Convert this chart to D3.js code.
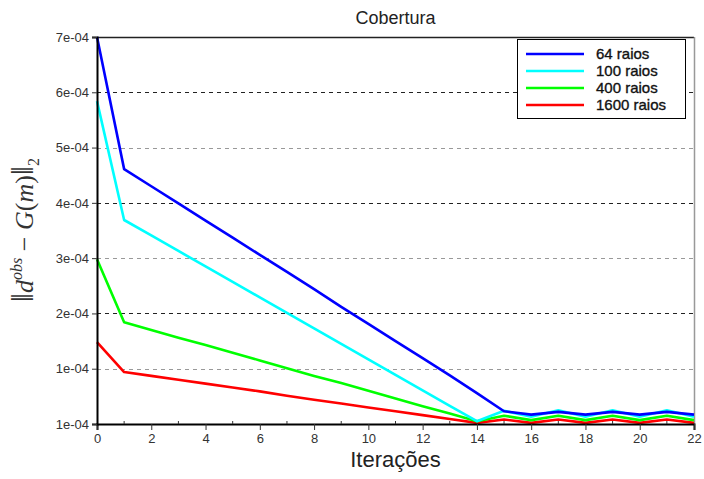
<!DOCTYPE html>
<html><head><meta charset="utf-8">
<script src="https://cdn.jsdelivr.net/npm/d3@7"></script>
<style>body{margin:0;background:#fff}svg{display:block}</style>
</head><body>
<svg id="c" width="704" height="479"></svg>
<script>
const iterations = d3.range(0, 23);
const seriesNames = ["64 raios", "100 raios", "400 raios", "1600 raios"];
const seriesColors = ["#0000ff", "#00ffff", "#00ff00", "#ff0000"];
// values in units of 1e-4
const raios64 = [7.0,4.61,4.30,3.99,3.68,3.37,3.06,2.75,2.44,2.12,1.81,1.50,1.19,0.88,0.56,0.23,0.17,0.22,0.17,0.22,0.17,0.22,0.17];
const raios100 = [5.84,3.69,3.41,3.13,2.85,2.57,2.29,2.01,1.73,1.45,1.17,0.89,0.61,0.33,0.05,0.24,0.13,0.25,0.13,0.25,0.13,0.25,0.13];
const raios400 = [2.98,1.84,1.70,1.56,1.43,1.29,1.15,1.01,0.87,0.74,0.60,0.46,0.32,0.19,0.05,0.15,0.07,0.15,0.07,0.15,0.07,0.15,0.07];
const raios1600 = [1.48,0.94,0.87,0.80,0.73,0.66,0.59,0.51,0.44,0.37,0.30,0.23,0.16,0.09,0.02,0.08,0.02,0.08,0.02,0.08,0.02,0.08,0.02];
const yTickValues = [0,1,2,3,4,5,6,7];
const yTickLabels = ["1e-04","1e-04","2e-04","3e-04","4e-04","5e-04","6e-04","7e-04"];
const xTickValues = d3.range(0, 23, 2);
const xMinorTicks = d3.range(1, 22, 2);

const svg = d3.select("#c");
const L = 97, R = 694, T = 37, B = 424;
const x = d3.scaleLinear().domain([0, 22]).range([L, R]);
const y = d3.scaleLinear().domain([0, 7]).range([B, T]);

// grid
svg.append("g").selectAll("line").data(yTickValues.filter(v => v > 0 && v < 7)).join("line")
  .attr("x1", L).attr("x2", R).attr("y1", d => Math.round(y(d)) + 0.5).attr("y2", d => Math.round(y(d)) + 0.5)
  .attr("stroke", d => d % 2 === 0 ? "#222" : "#999").attr("stroke-width", 1.2).attr("stroke-dasharray", "4,4");

// frame
svg.append("line").attr("x1", L).attr("x2", R).attr("y1", T + 0.5).attr("y2", T + 0.5).attr("stroke", "#222").attr("stroke-width", 1.5);
svg.append("line").attr("x1", R + 0.5).attr("x2", R + 0.5).attr("y1", T).attr("y2", B).attr("stroke", "#999").attr("stroke-width", 1.5);

// series
const seriesData = [raios64, raios100, raios400, raios1600];
const line = d3.line().x((d, i) => x(iterations[i])).y(d => y(Math.min(d, 7)));
const gLines = svg.append("g");
seriesData.slice().reverse().forEach((s, k) => {
  const idx = seriesData.length - 1 - k;
  gLines.append("path").datum(s).attr("d", line).attr("fill", "none")
    .attr("stroke", seriesColors[idx]).attr("stroke-width", 2.6).attr("stroke-linejoin", "round");
});

// axes
const xAxis = d3.axisBottom(x).tickValues(xTickValues).tickSize(6).tickPadding(4).tickFormat(d3.format("d"));
const gx = svg.append("g").attr("transform", `translate(0,${B})`).call(xAxis);
gx.select(".domain").attr("stroke", "#000").attr("stroke-width", 2);
gx.selectAll("text").attr("font-family", "Liberation Sans, Arial, sans-serif").attr("font-size", 13).attr("fill", "#333");
gx.selectAll(".tick line").attr("stroke", "#333");
svg.append("g").selectAll("line").data(xMinorTicks).join("line")
  .attr("x1", d => x(d)).attr("x2", d => x(d)).attr("y1", B - 3).attr("y2", B).attr("stroke", "#333");

const yAxis = d3.axisLeft(y).tickValues(yTickValues).tickSize(5).tickPadding(3).tickFormat((d, i) => yTickLabels[i]);
const gy = svg.append("g").attr("transform", `translate(${L},0)`).call(yAxis);
gy.select(".domain").attr("stroke", "#000").attr("stroke-width", 2);
gy.selectAll("text").attr("font-family", "Liberation Sans, Arial, sans-serif").attr("font-size", 13).attr("fill", "#333");
gy.selectAll(".tick line").attr("stroke", "#333");

// title
svg.append("text").attr("x", (L + R) / 2).attr("y", 24).attr("text-anchor", "middle")
  .attr("font-family", "Liberation Sans, Arial, sans-serif").attr("font-size", 18).attr("fill", "#222").text("Cobertura");
// x label
svg.append("text").attr("x", (L + R) / 2).attr("y", 467).attr("text-anchor", "middle")
  .attr("font-family", "Liberation Sans, Arial, sans-serif").attr("font-size", 22).attr("fill", "#222").text("Iterações");
// y label
const yl = svg.append("text").attr("transform", "translate(33,230) rotate(-90)").attr("text-anchor", "middle")
  .attr("font-family", "Liberation Serif, DejaVu Serif, serif").attr("font-size", 26).attr("fill", "#333");
yl.append("tspan").attr("font-size", 32).text("\u2016");
yl.append("tspan").attr("font-style", "italic").text("d");
yl.append("tspan").attr("font-style", "italic").attr("font-size", 16).attr("dy", -11).text("obs");
yl.append("tspan").attr("dy", 11).text(" \u2212 ");
yl.append("tspan").attr("font-style", "italic").text("G");
yl.append("tspan").text("(");
yl.append("tspan").attr("font-style", "italic").text("m");
yl.append("tspan").text(")");
yl.append("tspan").attr("font-size", 32).text("\u2016");
yl.append("tspan").attr("font-size", 16).attr("dy", 6).text("2");

// legend
const lg = svg.append("g");
lg.append("rect").attr("x", 517.5).attr("y", 39.5).attr("width", 168).attr("height", 79)
  .attr("fill", "#fff").attr("stroke", "#000").attr("stroke-width", 1);
seriesNames.forEach((n, i) => {
  const yy = 54 + i * 17;
  lg.append("line").attr("x1", 526).attr("x2", 584).attr("y1", yy).attr("y2", yy)
    .attr("stroke", seriesColors[i]).attr("stroke-width", 2.6);
  lg.append("text").attr("x", 596).attr("y", yy + 5).attr("font-family", "Liberation Sans, Arial, sans-serif")
    .attr("font-size", 15).attr("fill", "#111").attr("stroke", "#111").attr("stroke-width", 0.35).text(n);
});
</script>
</body></html>
